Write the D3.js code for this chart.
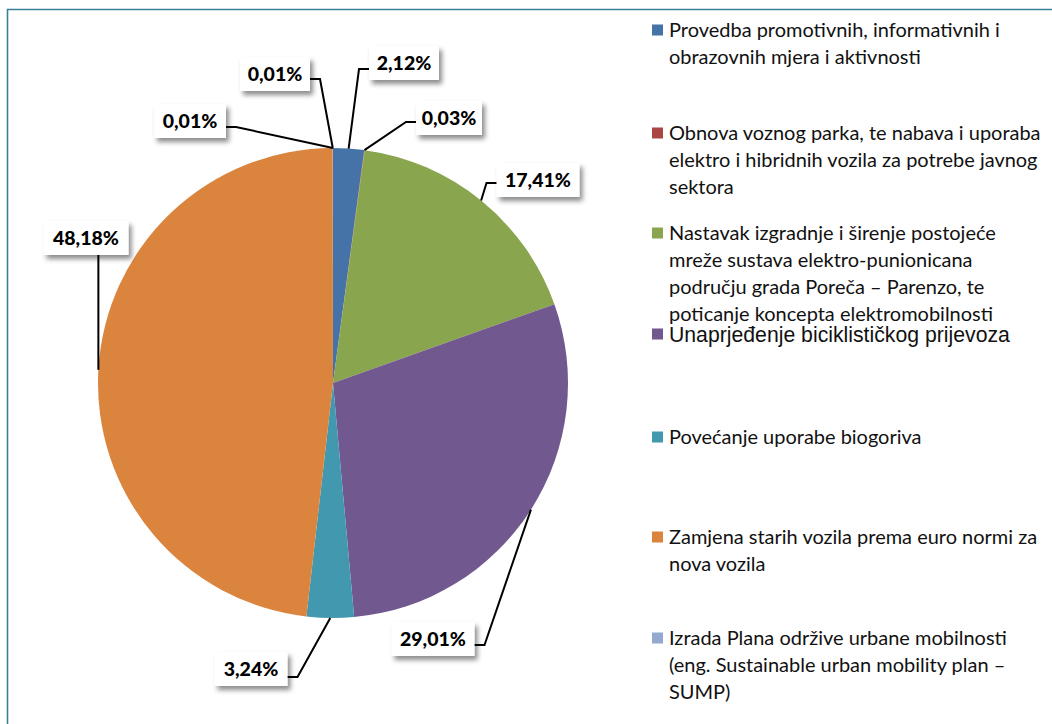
<!DOCTYPE html>
<html>
<head>
<meta charset="utf-8">
<script src="https://cdn.jsdelivr.net/npm/d3@7/dist/d3.min.js"></script>
<style>
  html, body { margin: 0; padding: 0; background: #fff; }
  svg { display: block; }
</style>
</head>
<body>
<svg id="chart" width="1052" height="724"></svg>
<script>
// ---- data ----
const categories = [
  "Provedba promotivnih, informativnih i\nobrazovnih mjera i aktivnosti",
  "Obnova voznog parka, te nabava i uporaba\nelektro i hibridnih vozila za potrebe javnog\nsektora",
  "Nastavak izgradnje i širenje postojeće\nmreže sustava elektro-punionicana\npodručju grada Poreča – Parenzo, te\npoticanje koncepta elektromobilnosti",
  "Unaprjeđenje biciklističkog prijevoza",
  "Povećanje uporabe biogoriva",
  "Zamjena starih vozila prema euro normi za\nnova vozila",
  "Izrada Plana održive urbane mobilnosti\n(eng. Sustainable urban mobility plan –\nSUMP)",
  ""
];
const values = [2.12, 0.03, 17.41, 29.01, 3.24, 48.18, 0.01, 0.01];
const colors = ["#4572A7", "#AA4643", "#89A54E", "#71588F", "#4198AF", "#DB843D", "#93A9CF", "#D19392"];

// ---- layout (positions of the label boxes and legend rows) ----
const labelLayout = [
  {cx: 404, cy: 63,  w: 70, side: "left",  dy: 6},
  {cx: 449, cy: 118, w: 66, side: "left",  dy: 4},
  {cx: 538, cy: 180, w: 83, side: "left",  dy: 3},
  {cx: 433, cy: 639, w: 83, side: "right", dy: 6},
  {cx: 251, cy: 669, w: 73, side: "right", dy: 8},
  {cx: 86,  cy: 238, w: 85, side: "bottom", dy: 0},
  {cx: 275, cy: 74,  w: 70, side: "right", dy: 5},
  {cx: 190, cy: 121, w: 72, side: "right", dy: 6}
];
const legendRowY = [30, 133, 233, 334, 437, 537, 638];

const svg = d3.select("#chart");
const W = 1052, H = 724;

// border
svg.append("path")
  .attr("d", `M7.5,${H + 5} L7.5,9.5 L${W + 5},9.5`)
  .attr("fill", "none")
  .attr("stroke", "#3a7f98")
  .attr("stroke-width", 1.6);

// shadow filter
const defs = svg.append("defs");
const f = defs.append("filter").attr("id", "shadow")
  .attr("x", "-30%").attr("y", "-40%").attr("width", "160%").attr("height", "190%");
f.append("feDropShadow").attr("dx", 3).attr("dy", 4).attr("stdDeviation", 2.6)
  .attr("flood-color", "#000").attr("flood-opacity", 0.45);

const cx = 333, cy = 383, r = 235;
const pie = d3.pie().sort(null).value(d => d).startAngle(0).endAngle(2 * Math.PI);
const arcs = pie(values);
const arc = d3.arc().innerRadius(0).outerRadius(r);
const edge = d3.arc().innerRadius(r).outerRadius(r);

const g = svg.append("g").attr("transform", `translate(${cx},${cy})`);
g.selectAll("path.slice").data(arcs).enter().append("path")
  .attr("class", "slice")
  .attr("d", arc)
  .attr("fill", (d, i) => colors[i]);

// labels
const fmt = v => d3.format(".2f")(v).replace(".", ",") + "%";
const lab = svg.append("g");
arcs.forEach((d, i) => {
  const L = labelLayout[i];
  const p = edge.centroid(d);
  const px = cx + p[0], py = cy + p[1];
  const bh = 34;
  let pts;
  if (L.side === "left") {
    const sx = L.cx - L.w / 2, sy = L.cy + L.dy;
    pts = [[sx + 2, sy], [sx - 10, sy], [px, py]];
  } else if (L.side === "right") {
    const sx = L.cx + L.w / 2, sy = L.cy + L.dy;
    pts = [[sx - 2, sy], [sx + 10, sy], [px, py]];
  } else {
    pts = [[px, L.cy + bh / 2 - 3], [px, py]];
  }
  lab.append("path")
    .attr("d", d3.line()(pts))
    .attr("fill", "none").attr("stroke", "#000").attr("stroke-width", 2);
  lab.append("rect")
    .attr("x", L.cx - L.w / 2).attr("y", L.cy - bh / 2)
    .attr("width", L.w).attr("height", bh)
    .attr("fill", "#fff").attr("filter", "url(#shadow)");
  lab.append("text")
    .attr("x", L.cx).attr("y", L.cy).attr("dy", "0.36em")
    .attr("text-anchor", "middle")
    .attr("font-family", "Lato, 'Open Sans', sans-serif")
    .attr("font-weight", 900).attr("font-size", 19.5)
    .attr("fill", "#000")
    .text(fmt(values[i]));
});

// legend
const leg = svg.append("g");
const texts = [];
categories.forEach((c, i) => {
  if (!c || legendRowY[i] === undefined) return;
  const y0 = legendRowY[i];
  leg.append("rect")
    .attr("x", 652).attr("y", y0 - 5.5).attr("width", 11).attr("height", 11)
    .attr("fill", colors[i]);
  const arial = i === 3;
  const t = leg.append("text")
    .attr("font-family", arial ? "'Liberation Sans', Arial, sans-serif" : "Lato, 'Open Sans', sans-serif")
    .attr("font-size", arial ? 18.6 : 17.6)
    .attr("fill", "#111");
  c.split("\n").forEach((line, k) => {
    t.append("tspan").attr("x", 669).attr("y", y0 + k * 26.8).attr("dy", "0.36em").text(line);
  });
  texts.push({t, i});
});
// fit legend font widths to the reference line widths
const firstSpan = texts[0].t.select("tspan").node();
const wLato = firstSpan.getComputedTextLength();
const latoSize = 17.6 * 331 / wLato;
const arialNode = texts.find(o => o.i === 3).t.select("tspan").node();
const wArial = arialNode.getComputedTextLength();
const arialSize = 18.6 * 341 / wArial;
texts.forEach(o => o.t.attr("font-size", o.i === 3 ? arialSize : latoSize));
</script>
</body>
</html>
